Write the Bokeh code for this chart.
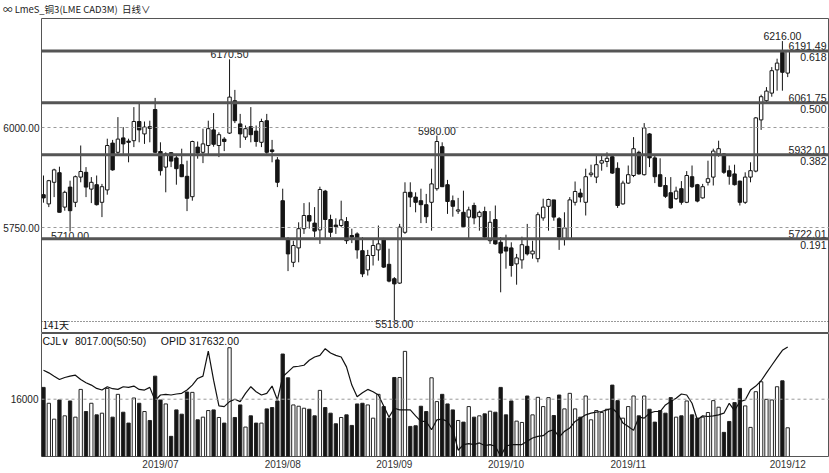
import numpy as np
from bokeh.plotting import figure
from bokeh.models import Range1d, FixedTicker, Span, ColumnDataSource, Div
from bokeh.layouts import column
from bokeh.core.properties import value
from bokeh.embed import file_html
from bokeh.resources import INLINE

# ---------------- data ----------------
open_ = [5832,5809,5863,5887,5801,5851,5813,5876,5888,5846,
         5857,5813,5844,5961,5938,5974,5966,5967,6015,5984,
         6002,6045,5940,5901,5937,5924,5907,5878,5827,5951,
         5938,5955,5994,5955,5971,5986,6067,6009,5976,6002,
         5991,5963,6017,5944,5919,5817,5722,5663,5699,5747,
         5780,5761,5744,5841,5770,5756,5755,5765,5730,5734,
         5692,5644,5680,5694,5722,5658,5622,5611,5738,5838,
         5826,5817,5807,5813,5847,5952,5857,5817,5791,5788,
         5776,5805,5777,5790,5717,5770,5713,5701,5699,5659,
         5669,5703,5684,5672,5774,5803,5819,5772,5721,5721,
         5813,5836,5813,5882,5876,5911,5915,5927,5898,5809,
         5861,5880,5938,5882,5984,5924,5882,5855,5837,5822,
         5847,5813,5877,5857,5824,5863,5876,5934,5934,5892,
         5884,5866,5813,5876,5891,6019,6067,6086,6144,6188,
         6136]
close = [5824,5867,5894,5788,5838,5792,5877,5890,5851,5863,
         5807,5852,5955,5894,5971,5959,5963,6015,5994,6001,
         5998,5938,5892,5934,5916,5897,5877,5823,5965,5936,
         5959,5997,5958,5982,5965,6076,6017,5984,5997,5982,
         5965,6015,5938,5940,5863,5724,5684,5705,5747,5780,
         5766,5741,5845,5770,5738,5752,5769,5717,5726,5694,
         5634,5680,5705,5709,5651,5616,5609,5751,5838,5826,
         5813,5807,5777,5859,5965,5852,5815,5803,5794,5752,
         5794,5774,5788,5726,5763,5709,5686,5691,5655,5674,
         5707,5684,5691,5782,5801,5820,5776,5726,5749,5819,
         5840,5826,5877,5886,5907,5917,5923,5886,5805,5861,
         5882,5947,5884,5999,5924,5877,5853,5828,5799,5841,
         5813,5880,5852,5816,5852,5872,5941,5947,5888,5878,
         5857,5813,5876,5892,6024,6077,6091,6142,6161,6138,
         6191.49]
high = [5880,5869,5897,5902,5842,5867,5880,5955,5901,5876,
        5880,5859,5972,5969,6026,6001,5972,6051,6059,6015,
        6017,6074,5963,5938,5938,5934,5947,5917,5967,5965,
        5997,6017,6036,5988,5976,6170.5,6094,6034,6005,6051,
        6005,6022,6034,5969,5926,5847,5726,5717,5763,5811,
        5813,5801,5852,5844,5782,5773,5817,5776,5747,5738,
        5726,5694,5722,5755,5724,5697,5626,5759,5863,5863,
        5838,5847,5834,5897,5980,5963,5869,5830,5824,5842,
        5802,5812,5792,5802,5791,5805,5726,5732,5713,5684,
        5727,5759,5717,5788,5822,5822,5819,5776,5788,5826,
        5865,5847,5897,5907,5934,5930,5938,5930,5913,5867,
        5905,5976,5942,6011,5986,5930,5923,5876,5876,5852,
        5866,5891,5905,5859,5859,5917,5947,5967,5936,5905,
        5907,5867,5888,5913,6026,6082,6101,6151,6172,6216,
        6194]
low = [5812,5801,5826,5788,5792,5740,5801,5863,5826,5811,
       5805,5776,5832,5892,5934,5934,5913,5951,5963,5959,
       5963,5936,5880,5838,5901,5857,5876,5791,5817,5922,
       5911,5930,5952,5926,5941,5984,6011,5949,5969,5963,
       5952,5951,5934,5913,5851,5722,5641,5651,5663,5734,
       5747,5726,5709,5722,5726,5734,5751,5709,5711,5672,
       5626,5630,5655,5667,5649,5613,5518,5609,5734,5801,
       5788,5761,5761,5742,5842,5851,5784,5777,5784,5751,
       5719,5758,5742,5722,5709,5707,5588,5647,5627,5607,
       5647,5680,5672,5663,5767,5742,5767,5694,5705,5719,
       5805,5813,5780,5876,5861,5892,5901,5884,5799,5807,
       5859,5876,5882,5880,5901,5861,5851,5824,5797,5819,
       5807,5811,5849,5813,5822,5855,5855,5927,5884,5857,
       5855,5805,5809,5863,5888,5994,6063,6077,6092,6092,
       6126]
volume = [19300,14870,10430,15790,11360,15510,10990,18740,12560,14870,
          11630,12100,19020,10990,17360,12370,9330,16340,14870,12560,
          10060,22440,15790,14680,5630,13020,11820,18000,17910,10250,
          10990,12830,13020,10900,9330,30380,10900,14400,8220,11360,
          9330,9330,13300,13670,15510,28620,21980,14400,14040,13480,
          13200,11360,18470,13670,12100,9140,10900,11630,8680,14680,
          14870,14400,10710,17360,13940,10710,22070,22070,29360,8400,
          8590,14040,12560,21980,15330,17360,14680,13020,10060,9600,
          13940,10990,11360,11910,12650,12370,19300,11630,15510,9880,
          9510,16900,11630,16530,13940,16440,11450,17170,13300,17640,
          13300,10990,16900,10250,12830,12280,13200,19940,15600,10710,
          13940,16900,11360,16900,13200,9600,12830,12100,16440,10990,
          11360,15510,11630,10710,10990,12280,15600,13760,6740,9790,
          15050,19020,14130,8130,18100,20870,15970,15790,19480,21140,
          8017]
open_interest = [305960,304630,302960,301300,302300,302960,303460,301300,299630,298460,
                 296790,295960,297630,296630,296290,297630,297300,297960,296290,295960,
                 297300,290630,293460,293790,293460,293960,294290,295960,298460,301800,
                 302960,315630,300960,287960,287630,290130,291290,290130,294290,297630,
                 295130,293460,294290,297960,290960,302630,305130,307630,307960,308460,
                 310960,312630,313460,316800,314630,313460,312630,307630,298460,292630,
                 294630,296290,295130,293460,287960,282290,286790,285960,285960,285960,
                 282960,280120,280120,275960,280960,281290,280120,275960,265620,268460,
                 268960,268460,269290,267960,268460,267620,262620,267620,268460,268460,
                 268460,270120,271790,272620,272960,275120,275960,272290,275120,276790,
                 280120,281790,283460,284290,284790,285130,285960,286790,284290,279290,
                 277620,275620,282290,281790,284290,285130,285130,288460,290130,291790,
                 293960,293460,289290,280960,282960,282620,282960,283460,284290,289290,
                 285620,290130,290960,295960,297960,300630,304630,308460,312300,315970,
                 317632]

fib_values = [6191.49, 6061.75, 5932.01, 5722.01]
fib_ratios = ["0.618", "0.500", "0.382", "0.191"]

peak_idx = [35, 74, 139]
peak_text = ["6170.50", "5980.00", "6216.00"]
trough_idx = [66, 5]
trough_text = ["5518.00", "5710.00"]

price_ticks = [5750, 6000]
price_tick_labels = ["5750.00", "6000.00"]
vol_ticks = [16000]
vol_tick_labels = ["16000"]
date_ticks = [22, 45, 66, 87, 110, 140]
date_labels = ["2019/07", "2019/08", "2019/09", "2019/10", "2019/11", "2019/12"]

header_text = "\u221e LmeS_\u94dc3(LME CAD3M)&nbsp;&nbsp;\u65e5\u7ebf\u2228"
NB = "\u00a0"
vol_header = "CJL\u2228" + NB * 2 + "8017.00(50:50)" + NB * 5 + "OPID" + NB + "317632.00"
days_text = "141\u5929"

# ---------------- build ----------------
FONT = value("Liberation Sans")
n = len(close)
idx = list(range(n))
up = [c >= o for o, c in zip(open_, close)]
src = ColumnDataSource(dict(
    x=idx, h=high, l=low,
    top=list(np.maximum(open_, close)), bot=list(np.minimum(open_, close)),
    fill=["white" if u else "#151515" for u in up],
    vol=volume, oi=open_interest,
))

W = 829
LB = 38
X0, X1 = -0.375, 147.86
x_range = Range1d(X0, X1)

p = figure(width=W, height=315, x_range=x_range, y_range=Range1d(5485, 6272.5),
           output_backend="svg", toolbar_location=None, x_axis_location=None,
           min_border_left=LB, min_border_right=0, min_border_top=0, min_border_bottom=0)
p.xgrid.visible = False
p.ygrid.visible = False
p.outline_line_color = "#555"
p.background_fill_color = "white"
p.border_fill_color = "white"
ya = p.yaxis[0]
ya.ticker = FixedTicker(ticks=price_ticks)
ya.major_label_overrides = {t: s for t, s in zip(price_ticks, price_tick_labels)}
ya.major_tick_out = 0
ya.major_tick_in = 0
ya.minor_tick_out = 0
ya.minor_tick_in = 0
ya.axis_line_color = None
ya.major_label_standoff = 2
ya.major_label_text_font = "Liberation Sans"
ya.major_label_text_font_size = "10px"
ya.major_label_text_color = "#222"

for v in price_ticks:
    p.add_layout(Span(location=v, dimension="width", line_color="#9a9a9a",
                      line_dash="3 3", line_width=1))
p.add_layout(Span(location=5515, dimension="width", line_color="#333",
                  line_dash="1 2", line_width=1))
for v in fib_values:
    p.add_layout(Span(location=v, dimension="width", line_color="#555", line_width=3))

p.segment("x", "l", "x", "h", source=src, line_color="#151515", line_width=1)
p.vbar(x="x", width=0.65, top="top", bottom="bot", fill_color="fill",
       line_color="#151515", line_width=1, source=src)

xr = X1 - 0.56
p.text(x=[xr] * len(fib_values), y=fib_values, text=[f"{v:.2f}" for v in fib_values],
       text_align="right", text_baseline="bottom", y_offset=-1,
       text_font=FONT, text_font_size="10.5px", text_color="#222")
p.text(x=[xr] * len(fib_values), y=fib_values, text=fib_ratios,
       text_align="right", text_baseline="top", y_offset=2,
       text_font=FONT, text_font_size="10.5px", text_color="#222")

p.text(x=peak_idx, y=[high[i] for i in peak_idx], text=peak_text,
       text_align="center", text_baseline="bottom", y_offset=-1,
       text_font=FONT, text_font_size="10.5px", text_color="#222")
p.text(x=trough_idx, y=[low[i] for i in trough_idx], text=trough_text,
       text_align="center", text_baseline="top", y_offset=0,
       text_font=FONT, text_font_size="10.5px", text_color="#222")
p.text(x=[-0.2], y=[5507], text=[days_text], text_align="left", text_baseline="middle",
       text_font=value("Noto Sans CJK SC"), text_font_size="10px", text_color="#111")

# volume panel
p2 = figure(width=W, height=139, x_range=x_range, y_range=Range1d(0, 34350),
            output_backend="svg", toolbar_location=None,
            min_border_left=LB, min_border_right=0, min_border_top=0, min_border_bottom=15)
p2.extra_y_ranges = {"oi": Range1d(262455, 324467)}
p2.xgrid.visible = False
p2.ygrid.visible = False
p2.outline_line_color = "#555"
p2.background_fill_color = "white"
p2.border_fill_color = "white"
va = p2.yaxis[0]
va.ticker = FixedTicker(ticks=vol_ticks)
va.major_label_overrides = {t: s for t, s in zip(vol_ticks, vol_tick_labels)}
va.major_tick_out = 0
va.major_tick_in = 0
va.minor_tick_out = 0
va.minor_tick_in = 0
va.axis_line_color = None
va.major_label_standoff = 3
va.major_label_text_font = "Liberation Sans"
va.major_label_text_font_size = "10px"
va.major_label_text_color = "#222"
xa = p2.xaxis[0]
xa.ticker = FixedTicker(ticks=date_ticks)
xa.major_label_overrides = {t: s for t, s in zip(date_ticks, date_labels)}
xa.major_tick_out = 0
xa.major_tick_in = 0
xa.minor_tick_out = 0
xa.minor_tick_in = 0
xa.axis_line_color = None
xa.major_label_standoff = 2
xa.major_label_text_font = "Liberation Sans"
xa.major_label_text_font_size = "10px"
xa.major_label_text_color = "#333"

for v in vol_ticks:
    p2.add_layout(Span(location=v, dimension="width", line_color="#9a9a9a",
                       line_dash="3 3", line_width=1))
p2.vbar(x="x", width=0.62, top="vol", bottom=0, fill_color="fill",
        line_color="#222", line_width=1, source=src)
p2.line("x", "oi", source=src, y_range_name="oi", line_color="#111", line_width=1.2)
p2.text(x=[-0.2], y=[33800], text=[vol_header], text_align="left", text_baseline="top",
        text_font=FONT, text_font_size="10.5px", text_color="#111")

header = Div(text=header_text, width=W, height=18, margin=(0, 0, 0, 0),
             styles={"font-size": "9.5px", "font-family": "'Noto Sans CJK SC', 'Liberation Sans'",
                     "line-height": "18px", "white-space": "nowrap", "color": "#222",
                     "padding-left": "3px"})

layout = column(header, p, p2, spacing=0)
open("out.html", "w").write(file_html(layout, INLINE))
